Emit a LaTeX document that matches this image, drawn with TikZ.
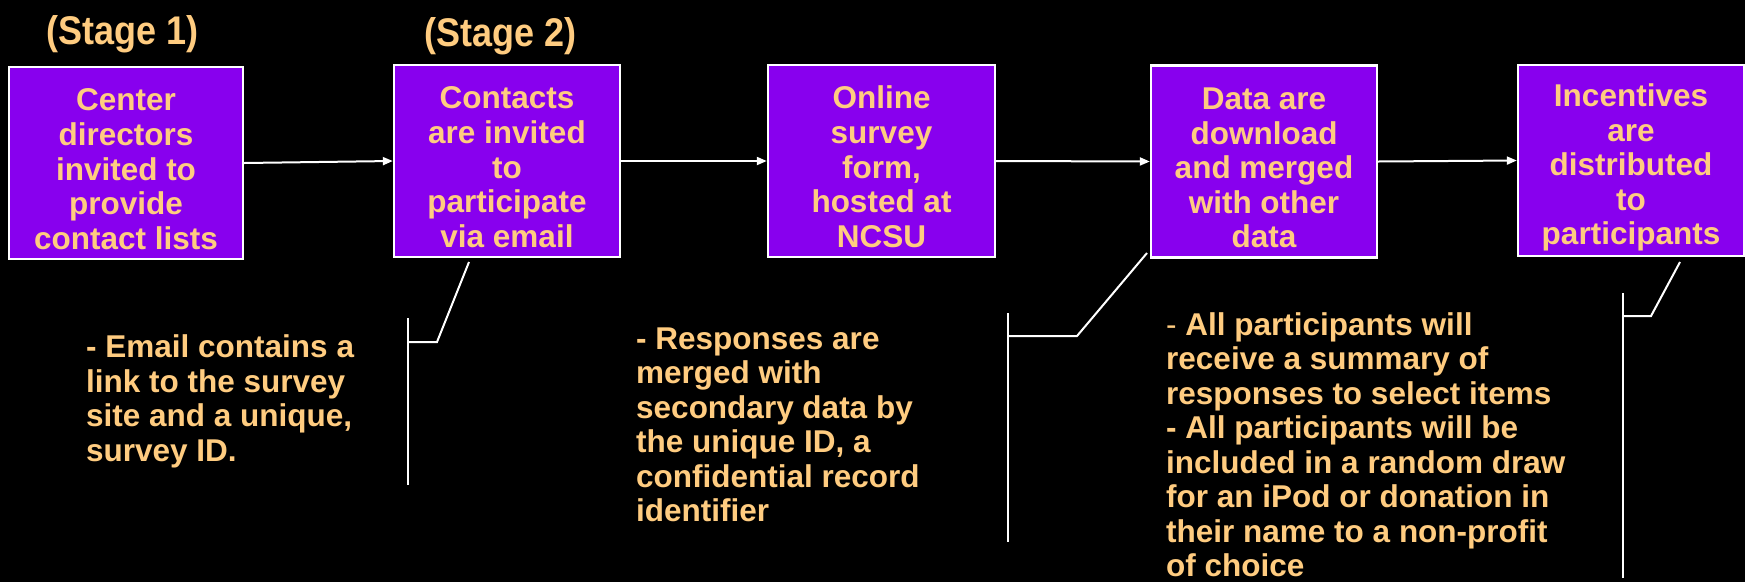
\documentclass[tikz,border=0pt]{standalone}
\usepackage{fontspec}
\setmainfont{Liberation Sans}
\newfontfamily\stagefont[FakeStretch=0.9]{Liberation Sans}
\usetikzlibrary{arrows.meta}
\definecolor{boxfill}{RGB}{136,0,238}
\definecolor{txt}{RGB}{255,204,128}
\newcommand\topgap{\rule{0pt}{34.5pt}}
\tikzset{
  stagebox/.style={draw=white, line width=2.4pt, fill=boxfill, text=txt,
    minimum height=192pt, inner sep=0pt, align=center,
    font=\bfseries\fontsize{31.5}{34.6}\selectfont},
  stagelabel/.style={text=txt, inner sep=0pt, anchor=base,
    font=\stagefont\bfseries\fontsize{40}{44}\selectfont},
  notetext/.style={text=txt, inner sep=0pt, anchor=north west, align=left,
    font=\bfseries\fontsize{31.5}{34.5}\selectfont},
  flow/.style={draw=white, line width=2pt, -{Triangle[length=10pt,width=8pt]}},
  callout/.style={draw=white, line width=2pt},
}
\begin{document}
\begin{tikzpicture}[x=1pt,y=-1pt]
\fill[black] (0,0) rectangle (1745,582);
\useasboundingbox (0,0) rectangle (1745,582);

\node[stagelabel] (s1) at (123,44) {(Stage 1)};
\node[stagelabel] (s2) at (501,46) {(Stage 2)};

\node[stagebox, minimum width=234pt] (b1) at (126,163) {\topgap Center\\directors\\invited to\\provide\\contact lists};
\node[stagebox, minimum width=226pt] (b2) at (507,161) {\topgap Contacts\\are invited\\to\\participate\\via email};
\node[stagebox, minimum width=227pt] (b3) at (881.5,161) {\topgap Online\\survey\\form,\\hosted at\\NCSU};
\node[stagebox, minimum width=226pt] (b4) at (1264,161.5) {\topgap Data are\\download\\and merged\\with other\\data};
\node[stagebox, minimum width=226pt, minimum height=191pt] (b5) at (1631,160.5) {\rule{0pt}{37pt}Incentives\\are\\distributed\\to\\participants};

\draw[flow] (b1.east) -- (b2.west);
\draw[flow] (b2.east) -- (b3.west);
\draw[flow] (b3.east) -- (b4.west);
\draw[flow] (b4.east) -- (b5.west);

\node[notetext] (n1) at (86,334.5) {- Email contains a\\link to the survey\\site and a unique,\\survey ID.};
\node[notetext] (n2) at (636,327.5) {- Responses are\\merged with\\secondary data by\\the unique ID, a\\confidential record\\identifier};
\node[notetext] (n4) at (1166,312) {{\mdseries -} All participants will\\receive a summary of\\responses to select items\\- All participants will be\\included in a random draw\\for an iPod or donation in\\their name to a non-profit\\of choice};

% callout for stage 2
\coordinate (c2a) at (469,262);
\coordinate (c2b) at (437,342);
\coordinate (c2c) at (408,342);
\coordinate (c2t) at (408,318);
\coordinate (c2d) at (408,485);
\draw[callout] (c2a) -- (c2b) -- (c2c);
\draw[callout] (c2t) -- (c2d);

% callout for data box
\coordinate (c4a) at (1147,253);
\coordinate (c4b) at (1077,336);
\coordinate (c4c) at (1008,336);
\coordinate (c4t) at (1008,313);
\coordinate (c4d) at (1008,542);
\draw[callout] (c4a) -- (c4b) -- (c4c);
\draw[callout] (c4t) -- (c4d);

% callout for incentives box
\coordinate (c5a) at (1680,262);
\coordinate (c5b) at (1651,316);
\coordinate (c5c) at (1623,316);
\coordinate (c5t) at (1623,293);
\coordinate (c5d) at (1623,578);
\draw[callout] (c5a) -- (c5b) -- (c5c);
\draw[callout] (c5t) -- (c5d);
\end{tikzpicture}
\end{document}
